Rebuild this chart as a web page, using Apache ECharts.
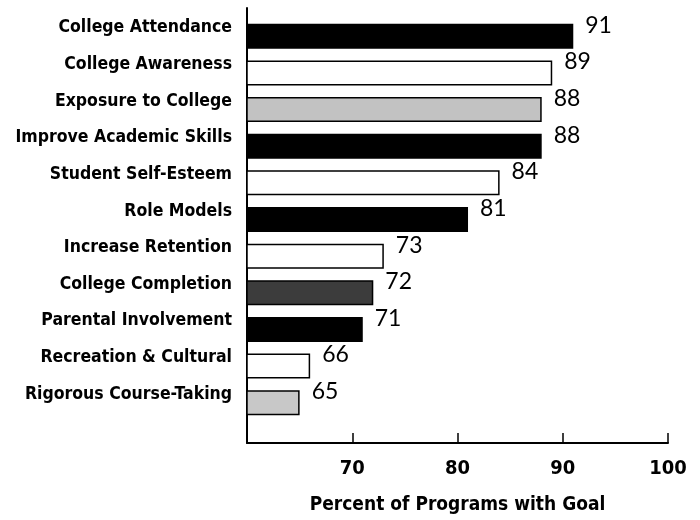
<!DOCTYPE html>
<html>
<head>
<meta charset="utf-8">
<script src="https://cdn.jsdelivr.net/npm/echarts@6/dist/echarts.min.js"></script>
<style>
  html, body { margin: 0; padding: 0; background: #fff; }
  #chart { width: 700px; height: 520px; }
</style>
</head>
<body>
<div id="chart"></div>
<script>
  // 数据
  var goals = ['College Attendance', 'College Awareness', 'Exposure to College',
    'Improve Academic Skills', 'Student Self-Esteem', 'Role Models', 'Increase Retention',
    'College Completion', 'Parental Involvement', 'Recreation & Cultural', 'Rigorous Course-Taking'];
  var percents = [91, 89, 88, 88, 84, 81, 73, 72, 71, 66, 65];
  var xTicks = [70, 80, 90, 100];

  // bar fills, one per goal
  var fills = ['#000', '#fff', '#c2c2c2', '#000', '#fff', '#000', '#fff', '#3c3c3c', '#000', '#fff', '#c8c8c8'];

  var condensed = '"DejaVu Sans Condensed", "DejaVu Sans", sans-serif';

  var chart = echarts.init(document.getElementById('chart'));

  var option = {
    animation: false,
    backgroundColor: '#fff',
    grid: [
      // bars
      { left: 247, right: 32, top: 18, height: 403, containLabel: false, outerBoundsMode: 'none' },
      // frame: axis lines, ticks and labels
      { left: 247, right: 32, top: 8, bottom: 77, containLabel: false, outerBoundsMode: 'none' }
    ],
    xAxis: [
      {
        gridIndex: 0, type: 'value', min: 60, max: 100, interval: 10,
        show: false
      },
      {
        gridIndex: 1, type: 'value', min: 60, max: 100, interval: 10,
        axisLine: { show: true, lineStyle: { color: '#000', width: 2 } },
        axisTick: { show: true, inside: true, length: 10, lineStyle: { color: '#000', width: 1.5 } },
        splitLine: { show: false },
        axisLabel: {
          showMinLabel: false,
          margin: 16,
          color: '#000',
          fontFamily: condensed,
          fontWeight: 'bold',
          fontSize: 20,
          formatter: function (v) { return xTicks.indexOf(v) >= 0 ? String(v) : ''; }
        },
        name: 'Percent of Programs with Goal',
        nameLocation: 'middle',
        nameGap: 53,
        nameTextStyle: { color: '#000', fontFamily: condensed, fontWeight: 'bold', fontSize: 19 }
      }
    ],
    yAxis: [
      {
        gridIndex: 0, type: 'category', data: goals, inverse: true,
        axisLine: { show: false },
        axisTick: { show: false },
        axisLabel: {
          margin: 15,
          verticalAlign: 'bottom',
          lineHeight: 17,
          color: '#000',
          fontFamily: condensed,
          fontWeight: 'bold',
          fontSize: 17.5
        }
      },
      {
        gridIndex: 1, type: 'value', min: 0, max: 1,
        axisLine: { show: true, onZero: false, lineStyle: { color: '#000', width: 2 } },
        axisTick: { show: false },
        axisLabel: { show: false },
        splitLine: { show: false }
      }
    ],
    series: [
      {
        type: 'bar',
        xAxisIndex: 0,
        yAxisIndex: 0,
        barWidth: 25,
        data: percents.map(function (v, i) {
          return { value: v, itemStyle: { color: fills[i] } };
        }),
        itemStyle: { borderColor: '#000', borderWidth: 1.5 },
        label: {
          show: true,
          position: 'right',
          distance: 12,
          offset: [0, -11],
          color: '#000',
          fontFamily: 'Lato, "Noto Sans", sans-serif',
          fontSize: 23
        }
      }
    ]
  };

  chart.setOption(option);
</script>
</body>
</html>
